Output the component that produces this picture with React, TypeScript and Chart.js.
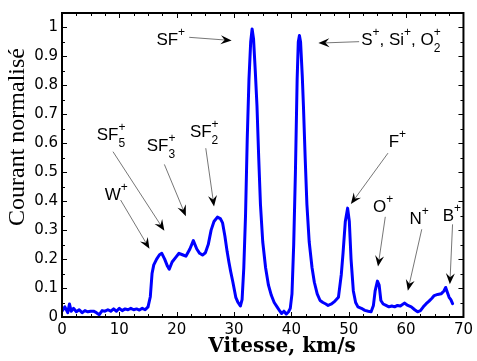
import { useEffect, useRef } from 'react';
import { Chart, registerables } from 'chart.js';

Chart.register(...registerables);

// ---- data ----
const velocity = [
  0, 0.5, 1.0, 1.3, 1.6, 2.0, 2.5, 3.0, 3.5, 4.0, 4.5, 5.0, 5.5, 6.0, 6.5, 7.0, 7.5, 8.0, 8.5, 9.0,
  9.5, 10.0, 10.5, 11.0, 11.5, 12.0, 12.5, 13.0, 13.5, 14.0, 14.5, 15.0, 15.4, 15.7, 16.0, 16.5, 17.0, 17.4, 17.9, 18.4,
  18.7, 19.2, 19.8, 20.4, 21.0, 21.6, 22.3, 22.9, 23.5, 24.0, 24.5, 25.0, 25.5, 26.0, 26.5, 27.1, 27.6, 28.0, 28.4, 28.8,
  29.1, 29.4, 29.8, 30.3, 30.7, 31.1, 31.4, 31.7, 32.0, 32.3, 32.6, 32.9, 33.15, 33.4, 33.7, 34.0, 34.3, 34.6, 35.0, 35.5,
  36.0, 36.5, 37.0, 37.5, 38.0, 38.3, 38.7, 39.1, 39.5, 39.8, 40.1, 40.4, 40.7, 41.0, 41.2, 41.4, 41.6, 41.9, 42.1, 42.4,
  42.7, 43.1, 43.6, 44.0, 44.5, 45.0, 45.5, 46.0, 46.4, 47.0, 47.6, 48.2, 48.7, 49.0, 49.4, 49.8, 50.1, 50.4, 50.8, 51.2,
  51.6, 52.2, 52.8, 53.4, 53.9, 54.3, 54.6, 55.0, 55.3, 55.6, 56.0, 56.5, 57.0, 57.5, 58.0, 58.5, 59.0, 59.7, 60.3, 60.9,
  61.5, 62.0, 62.5, 63.0, 63.5, 64.0, 64.5, 64.9, 65.5, 66.1, 66.6, 66.9, 67.2, 67.5, 67.8, 68.1,
];
const current = [
  0.02, 0.035, 0.015, 0.045, 0.02, 0.03, 0.018, 0.025, 0.015, 0.022, 0.018, 0.02, 0.02, 0.015, 0.008, 0.022, 0.02, 0.025, 0.02, 0.028,
  0.02, 0.03, 0.022, 0.028, 0.025, 0.03, 0.025, 0.028, 0.024, 0.03, 0.025, 0.035, 0.07, 0.15, 0.18, 0.2, 0.215, 0.22, 0.2, 0.175,
  0.165, 0.19, 0.205, 0.22, 0.215, 0.21, 0.235, 0.264, 0.235, 0.22, 0.214, 0.222, 0.25, 0.3, 0.33, 0.345, 0.34, 0.325, 0.28, 0.225,
  0.19, 0.158, 0.12, 0.068, 0.05, 0.038, 0.06, 0.17, 0.35, 0.616, 0.82, 0.95, 0.995, 0.96, 0.85, 0.728, 0.55, 0.39, 0.26, 0.17,
  0.11, 0.075, 0.05, 0.035, 0.02, 0.012, 0.02, 0.01, 0.018, 0.03, 0.08, 0.25, 0.5, 0.82, 0.95, 0.972, 0.95, 0.83, 0.728, 0.55,
  0.39, 0.26, 0.17, 0.12, 0.08, 0.057, 0.05, 0.045, 0.04, 0.045, 0.055, 0.068, 0.147, 0.22, 0.33, 0.376, 0.33, 0.2, 0.09, 0.05,
  0.035, 0.03, 0.023, 0.02, 0.018, 0.04, 0.09, 0.124, 0.11, 0.057, 0.045, 0.04, 0.035, 0.038, 0.035, 0.04, 0.038, 0.048, 0.04, 0.035,
  0.025, 0.018, 0.022, 0.035, 0.046, 0.055, 0.065, 0.074, 0.078, 0.08, 0.09, 0.102, 0.085, 0.068, 0.06, 0.046,
];

const xTicks = [0, 10, 20, 30, 40, 50, 60, 70];
const yTicks = [0, 0.1, 0.2, 0.3, 0.4, 0.5, 0.6, 0.7, 0.8, 0.9, 1];
const xMinorStep = 2.5;
const yMinorStep = 0.05;
const xTitle = 'Vitesse, km/s';
const yTitle = 'Courant normalisé';

type Part = { t?: string; sub?: string; sup?: string };
type Annotation = { parts: Part[]; text: [number, number]; from: [number, number]; to: [number, number] };

// annotation anchors given in data units (velocity, current)
const annotations: Annotation[] = [
  { parts: [{ t: 'SF' }, { sup: '+' }], text: [16.46, 0.941], from: [22.18, 0.966], to: [29.58, 0.955] },
  {
    parts: [{ t: 'S' }, { sup: '+' }, { t: ', Si' }, { sup: '+' }, { t: ', O' }, { sub: '2', sup: '+' }],
    text: [52.16, 0.94], from: [51.81, 0.951], to: [44.71, 0.946],
  },
  { parts: [{ t: 'SF' }, { sub: '5', sup: '+' }], text: [6.06, 0.611], from: [8.89, 0.571], to: [17.85, 0.298] },
  { parts: [{ t: 'W' }, { sup: '+' }], text: [7.45, 0.404], from: [10.22, 0.404], to: [15.25, 0.236] },
  { parts: [{ t: 'SF' }, { sub: '3', sup: '+' }], text: [14.78, 0.572], from: [17.85, 0.527], to: [21.6, 0.348] },
  { parts: [{ t: 'SF' }, { sub: '2', sup: '+' }], text: [22.3, 0.622], from: [25.07, 0.583], to: [26.51, 0.382] },
  { parts: [{ t: 'F' }, { sup: '+' }], text: [56.96, 0.588], from: [56.84, 0.566], to: [50.37, 0.39] },
  { parts: [{ t: 'O' }, { sup: '+' }], text: [54.24, 0.361], from: [56.37, 0.346], to: [55.1, 0.174] },
  { parts: [{ t: 'N' }, { sup: '+' }], text: [60.6, 0.32], from: [62.73, 0.303], to: [60.3, 0.091] },
  { parts: [{ t: 'B' }, { sup: '+' }], text: [66.37, 0.331], from: [68.1, 0.32], to: [67.63, 0.113] },
];

const MAIN_FONT = '17px "Liberation Sans", Arial, sans-serif';
const SMALL_FONT = '12px "Liberation Sans", Arial, sans-serif';

const framePlugin = {
  id: 'matlabFrame',
  afterDraw(chart: any) {
    const { ctx, chartArea } = chart;
    const xs = chart.scales.x;
    const ys = chart.scales.y;
    const { left, right, top, bottom } = chartArea;
    ctx.save();

    // annotations
    ctx.fillStyle = '#000';
    ctx.textBaseline = 'alphabetic';
    ctx.textAlign = 'left';
    for (const a of annotations) {
      let x = xs.getPixelForValue(a.text[0]);
      const by = ys.getPixelForValue(a.text[1]);
      for (const p of a.parts) {
        if (p.t) {
          ctx.font = MAIN_FONT;
          ctx.fillText(p.t, x, by);
          x += ctx.measureText(p.t).width;
        } else {
          ctx.font = SMALL_FONT;
          let w = 0;
          if (p.sup) {
            ctx.fillText(p.sup, x, by - 9);
            w = Math.max(w, ctx.measureText(p.sup).width);
          }
          if (p.sub) {
            ctx.fillText(p.sub, x, by + 7);
            w = Math.max(w, ctx.measureText(p.sub).width);
          }
          x += w;
        }
      }
      // arrow
      const x0 = xs.getPixelForValue(a.from[0]);
      const y0 = ys.getPixelForValue(a.from[1]);
      const x1 = xs.getPixelForValue(a.to[0]);
      const y1 = ys.getPixelForValue(a.to[1]);
      const ang = Math.atan2(y1 - y0, x1 - x0);
      const len = 11;
      const hw = 4.5;
      const notch = 7;
      const ca = Math.cos(ang), sa = Math.sin(ang);
      ctx.strokeStyle = '#666';
      ctx.lineWidth = 0.9;
      ctx.beginPath();
      ctx.moveTo(x0, y0);
      ctx.lineTo(x1 - ca * notch, y1 - sa * notch);
      ctx.stroke();
      ctx.fillStyle = '#000';
      ctx.beginPath();
      ctx.moveTo(x1, y1);
      ctx.lineTo(x1 - ca * len - sa * hw, y1 - sa * len + ca * hw);
      ctx.lineTo(x1 - ca * notch, y1 - sa * notch);
      ctx.lineTo(x1 - ca * len + sa * hw, y1 - sa * len - ca * hw);
      ctx.closePath();
      ctx.fill();
    }

    // ticks (inward, all four sides)
    ctx.strokeStyle = '#000';
    ctx.lineWidth = 1;
    ctx.beginPath();
    const xmin = xs.min, xmax = xs.max, ymin = ys.min, ymax = ys.max;
    for (let v = xmin; v <= xmax + 1e-9; v += xMinorStep) {
      const px = Math.round(xs.getPixelForValue(v)) + 0.5;
      const major = xTicks.some((t) => Math.abs(t - v) < 1e-9);
      const l = major ? 5 : 3;
      ctx.moveTo(px, bottom);
      ctx.lineTo(px, bottom - l);
      ctx.moveTo(px, top);
      ctx.lineTo(px, top + l);
    }
    for (let v = ymin; v <= ymax + 1e-9; v += yMinorStep) {
      const py = Math.round(ys.getPixelForValue(v)) + 0.5;
      const major = yTicks.some((t) => Math.abs(t - v) < 1e-9);
      const l = major ? 5 : 3;
      ctx.moveTo(left, py);
      ctx.lineTo(left + l, py);
      ctx.moveTo(right, py);
      ctx.lineTo(right - l, py);
    }
    ctx.stroke();

    // box
    ctx.lineWidth = 2;
    ctx.strokeRect(left, top, right - left, bottom - top);

    // axis titles
    ctx.fillStyle = '#000';
    ctx.textAlign = 'center';
    ctx.textBaseline = 'middle';
    ctx.font = 'bold 20px "DejaVu Serif", serif';
    ctx.fillText(xTitle, 282, 347);
    ctx.save();
    ctx.translate(18, 137);
    ctx.rotate(-Math.PI / 2);
    ctx.font = '24px "Liberation Serif", "Times New Roman", serif';
    ctx.fillText(yTitle, 0, 0);
    ctx.restore();

    ctx.restore();
  },
};

export default function App() {
  const ref = useRef<HTMLCanvasElement | null>(null);
  useEffect(() => {
    document.body.style.margin = '0';
    const canvas = ref.current;
    if (!canvas) return;
    const chart = new Chart(canvas, {
      type: 'line',
      data: {
        datasets: [
          {
            data: velocity.map((v, i) => ({ x: v, y: current[i] })),
            borderColor: '#0000FF',
            borderWidth: 3,
            borderJoinStyle: 'round',
            borderCapStyle: 'round',
            pointRadius: 0,
            tension: 0,
            fill: false,
          },
        ],
      },
      options: {
        animation: false,
        responsive: false,
        devicePixelRatio: 1,
        layout: { padding: { top: 4, right: 11, left: 0, bottom: 0 } },
        plugins: { legend: { display: false }, tooltip: { enabled: false } },
        scales: {
          x: {
            type: 'linear',
            min: 0,
            max: 70,
            afterBuildTicks: (s: any) => {
              s.ticks = xTicks.map((v) => ({ value: v }));
            },
            afterFit: (s: any) => {
              s.height = 44;
            },
            grid: { display: false, drawTicks: false },
            border: { display: false },
            ticks: {
              autoSkip: false,
              maxRotation: 0,
              padding: 4,
              color: '#000',
              font: { family: '"DejaVu Sans", sans-serif', size: 15 },
              callback: (v: any) => String(v),
            },
          },
          y: {
            type: 'linear',
            min: 0,
            max: 1.05,
            afterBuildTicks: (s: any) => {
              s.ticks = yTicks.map((v) => ({ value: v }));
            },
            afterFit: (s: any) => {
              s.width = 62;
            },
            grid: { display: false, drawTicks: false },
            border: { display: false },
            ticks: {
              autoSkip: false,
              padding: 4,
              color: '#000',
              font: { family: '"DejaVu Sans", sans-serif', size: 15 },
              callback: (v: any) => String(v),
            },
          },
        },
      },
      plugins: [framePlugin],
    });
    return () => chart.destroy();
  }, []);
  return (
    <div style={{ width: 477, height: 361 }}>
      <canvas ref={ref} width={477} height={361} style={{ display: 'block' }} />
    </div>
  );
}
